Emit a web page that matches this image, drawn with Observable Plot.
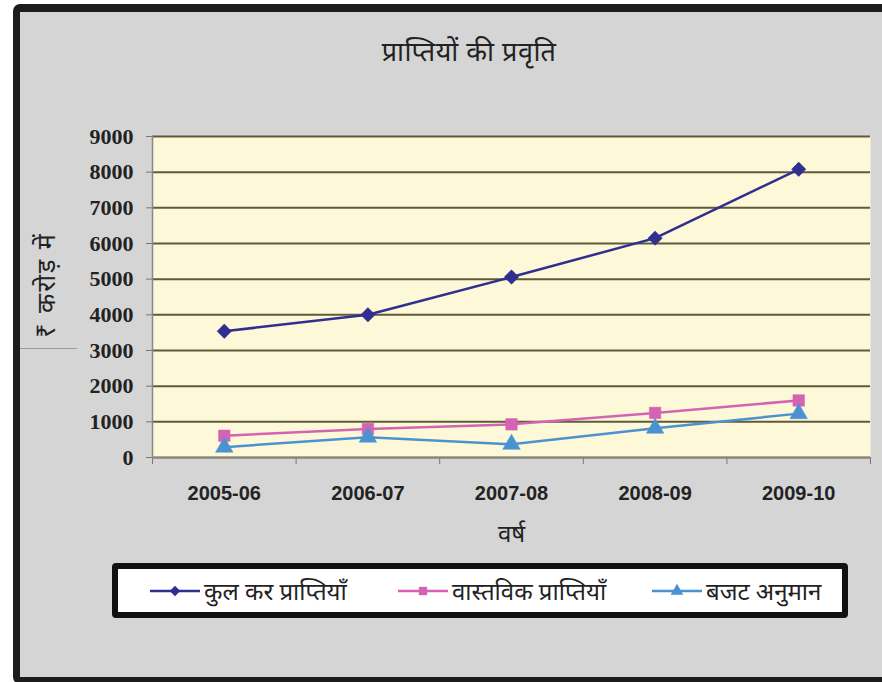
<!DOCTYPE html>
<html>
<head>
<meta charset="utf-8">
<script src="https://cdn.jsdelivr.net/npm/d3@7"></script>
<script src="https://cdn.jsdelivr.net/npm/@observablehq/plot@0.6"></script>
<style>
  html, body { margin: 0; padding: 0; background: #fff; overflow: hidden; }
  #page { position: relative; width: 882px; height: 682px; overflow: hidden; }
  #frame { position: absolute; left: 13px; top: 4px; width: 900px; height: 680px; box-sizing: border-box;
           border: 7px solid #1c1c1c; border-top-width: 8px; border-radius: 7px; background: #d5d5d5; }
  #chart { position: absolute; left: 0; top: 0; }
  #title { position: absolute; left: 0; width: 938px; top: 32px; text-align: center;
           font: 27px "Noto Sans", "DejaVu Sans", sans-serif; color: #222; letter-spacing: 0.5px; }
  #ylabel { position: absolute; left: -57px; top: 270px; width: 200px; height: 30px; line-height: 30px;
            text-align: center; transform: rotate(-90deg); letter-spacing: 2px;
            font: 25px "Noto Sans", "DejaVu Sans", sans-serif; color: #222; white-space: nowrap; }
  #stray { position: absolute; left: 20px; top: 348px; width: 57px; height: 1px; background: #9a9a9a; }
  #legend { position: absolute; left: 112px; top: 563px; width: 736px; height: 55px; box-sizing: border-box;
            border: 6px solid #111; border-radius: 4px; background: #fff; }
  .item { position: absolute; top: 0; height: 43px; display: flex; align-items: center;
          font: 24px "Noto Sans", "DejaVu Sans", sans-serif; color: #222; white-space: nowrap; }
  .item svg { margin-right: 2px; }
  .yaxis text { font-family: "Liberation Serif", serif !important; }
</style>
</head>
<body>
<div id="page">
  <div id="frame"></div>
  <div id="stray"></div>
  <div id="title"></div>
  <div id="ylabel"></div>
  <div id="chart"></div>
  <div id="legend"></div>
</div>
<script>
// ---- data ----
const years = ["2005-06", "2006-07", "2007-08", "2008-09", "2009-10"];
const seriesNames = ["कुल कर प्राप्तियाँ", "वास्तविक प्राप्तियाँ", "बजट अनुमान"];
const totalReceipts = [3540, 4000, 5060, 6150, 8080];
const actualReceipts = [610, 800, 930, 1250, 1600];
const budgetEstimates = [290, 570, 370, 820, 1230];
const yTicks = [0, 1000, 2000, 3000, 4000, 5000, 6000, 7000, 8000, 9000];
const titleText = "प्राप्तियों की प्रवृति";
const yLabel = "₹ करोड़ में";
const xLabel = "वर्ष";

// ---- styles ----
const colors = ["#2f2f8f", "#d563b4", "#4b92d2"];
const symbols = ["diamond2", "square", "triangle"];

const seriesValues = [totalReceipts, actualReceipts, budgetEstimates];
const data = [];
seriesNames.forEach((name, j) => {
  years.forEach((yr, i) => data.push({i, year: yr, series: name, value: seriesValues[j][i]}));
});
const idx = years.map((_, i) => i);
const boundaries = d3.range(years.length + 1).map(i => i - 0.5);

document.getElementById("title").textContent = titleText;
document.getElementById("ylabel").textContent = yLabel;

const chart = Plot.plot({
  width: 882,
  height: 682,
  marginLeft: 152,
  marginRight: 12,
  marginTop: 136,
  marginBottom: 225,
  style: {background: "transparent", overflow: "visible"},
  x: {type: "linear", domain: [-0.5, years.length - 0.5], axis: null},
  y: {domain: [0, 9000], axis: null},
  color: {domain: seriesNames, range: colors},
  symbol: {domain: seriesNames, range: symbols},
  marks: [
    Plot.frame({fill: "#fdf9d8", stroke: null}),
    Plot.gridY(yTicks, {stroke: "#5e5b3b", strokeOpacity: 1, strokeWidth: 2}),
    Plot.axisY(yTicks, {className: "yaxis", tickSize: 6, tickPadding: 13, stroke: "#777", fill: "#222", fontSize: 22,
      fontWeight: "bold", fontFamily: "Liberation Serif", tickFormat: d => String(d), label: null}),
    Plot.axisX(boundaries, {tickSize: 7, stroke: "#777", tickFormat: () => "", label: null}),
    Plot.axisX(idx, {tickSize: 0, tickPadding: 28, fill: "#222", tickFormat: i => years[i], fontSize: 20,
      fontWeight: "bold", fontFamily: "Liberation Sans, sans-serif", label: null}),
    Plot.ruleX([-0.5], {stroke: "#888", strokeWidth: 1.5}),
    Plot.ruleY([0], {stroke: "#888", strokeWidth: 1}),
    Plot.text([xLabel], {frameAnchor: "bottom", dy: 84, fontSize: 24, fill: "#222",
      fontFamily: "Noto Sans, DejaVu Sans, sans-serif"}),
    Plot.line(data, {x: "i", y: "value", z: "series", stroke: "series", strokeWidth: 2.5}),
    Plot.dot(data, {x: "i", y: "value", fill: "series", symbol: "series", r: 6.5, stroke: "series", strokeWidth: 0.5})
  ]
});
document.getElementById("chart").appendChild(chart);

// ---- legend ----
const legend = document.getElementById("legend");
const itemLefts = [32, 280, 534];
seriesNames.forEach((name, j) => {
  const item = document.createElement("div");
  item.className = "item";
  item.style.left = itemLefts[j] + "px";
  const sym = d3.symbol(j === 0 ? d3.symbolDiamond2 : j === 1 ? d3.symbolSquare : d3.symbolTriangle, 70)();
  item.innerHTML = `<svg width="52" height="20"><line x1="0" x2="50" y1="10" y2="10" stroke="${colors[j]}" stroke-width="2.5"/>` +
    `<path d="${sym}" transform="translate(25,10)" fill="${colors[j]}"/></svg><span>${name}</span>`;
  legend.appendChild(item);
});
</script>
</body>
</html>
